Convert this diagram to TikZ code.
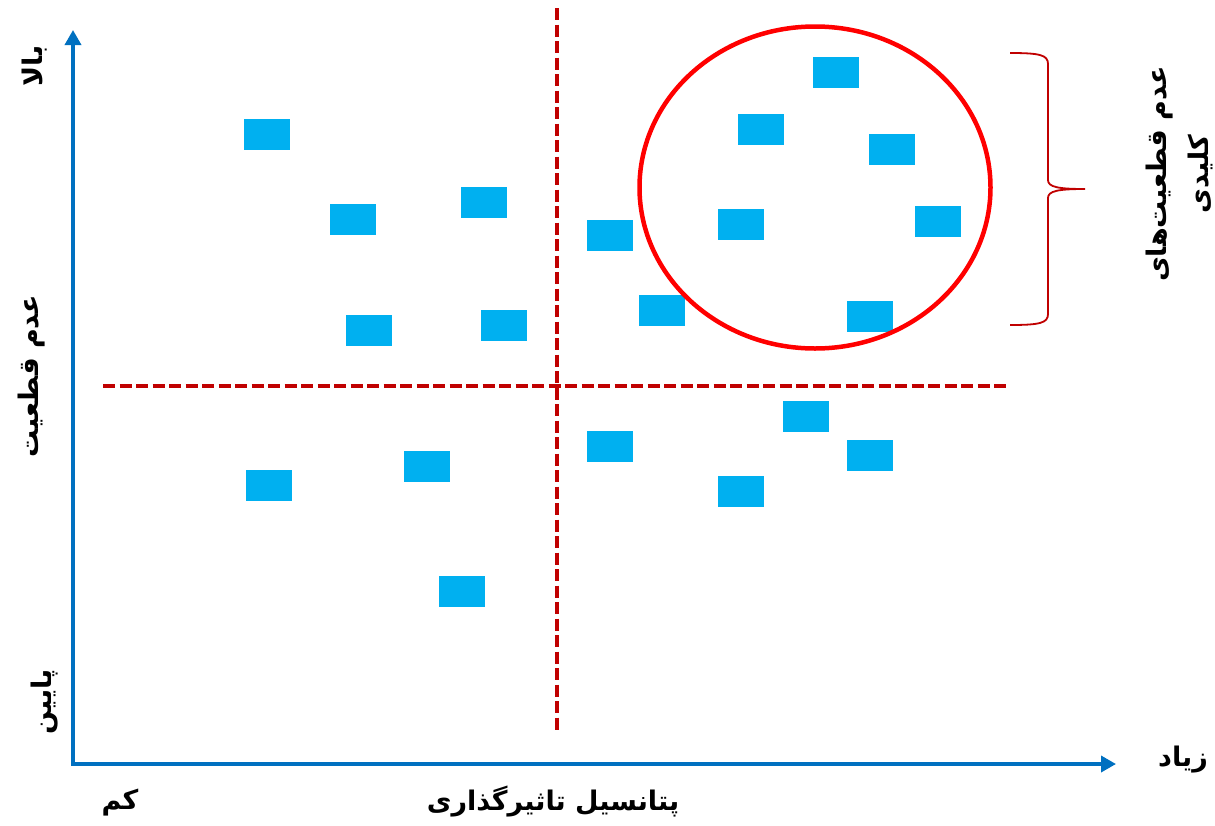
\documentclass[tikz,border=0pt]{standalone}
\usepackage{fontspec}
\newfontfamily\farsi[Script=Arabic]{DejaVu Sans}
\TeXXeTstate=1
\usetikzlibrary{arrows.meta}

\definecolor{axisblue}{HTML}{0070C0}
\definecolor{itemblue}{HTML}{00B0F0}
\definecolor{darkred}{HTML}{C00000}

\begin{document}
\begin{tikzpicture}[x=1pt,y=-1pt,>={Triangle[length=15pt,width=16pt]},
                    risk box/.style={rectangle,fill=itemblue,minimum width=46pt,minimum height=31pt,inner sep=0pt},
                    axis text/.style={font=\farsi\bfseries\fontsize{27}{42}\selectfont,inner sep=0pt},
                    divider/.style={darkred,line width=4.5pt,dash pattern=on 12pt off 4.5pt}]
  \useasboundingbox (0,0) rectangle (1215,825);

  % axes
  \coordinate (origin) at (73,764);
  \coordinate (ytip) at (73,30);
  \coordinate (xtip) at (1116,764);
  \draw[axisblue,line width=3.5pt,<->] (ytip) -- (origin) -- (xtip);

  % quadrant lines
  \coordinate (vtop) at (557,8);
  \coordinate (vbot) at (557,733);
  \coordinate (hleft) at (103,386);
  \coordinate (hright) at (1010,386);
  \draw[divider] (vtop) -- (vbot);
  \draw[divider] (hleft) -- (hright);

  % uncertainties
  \node[risk box] (r1) at (267,134.5) {};
  \node[risk box] (r2) at (353,219.5) {};
  \node[risk box] (r3) at (484,202.5) {};
  \node[risk box] (r4) at (610,235.5) {};
  \node[risk box] (r5) at (369,330.5) {};
  \node[risk box] (r6) at (504,325.5) {};
  \node[risk box] (r7) at (836,72.5) {};
  \node[risk box] (r8) at (761,129.5) {};
  \node[risk box] (r9) at (892,149.5) {};
  \node[risk box] (r10) at (741,224.5) {};
  \node[risk box] (r11) at (938,221.5) {};
  \node[risk box] (r12) at (662,310.5) {};
  \node[risk box] (r13) at (870,316.5) {};
  \node[risk box] (r14) at (806,416.5) {};
  \node[risk box] (r15) at (610,446.5) {};
  \node[risk box] (r16) at (870,455.5) {};
  \node[risk box] (r17) at (269,485.5) {};
  \node[risk box] (r18) at (427,466.5) {};
  \node[risk box] (r19) at (741,491.5) {};
  \node[risk box] (r20) at (462,591.5) {};

  % key group
  \draw[red,line width=4.5pt] (815,187.5) ellipse [x radius=175.5, y radius=161];
  \coordinate (btop) at (1010,53);
  \coordinate (bbot) at (1010,325);
  \coordinate (btip) at (1085,189);
  \draw[darkred,line width=1.8pt] (btop) .. controls (1040,53) and (1048,55) .. (1048,64)
    -- (1048,180) .. controls (1048,187) and (1058,189) .. (btip)
    .. controls (1058,189) and (1048,191) .. (1048,198)
    -- (1048,314) .. controls (1048,323) and (1040,325) .. (bbot);

  % labels
  \node[axis text,rotate=90] (high) at (35,66) {\beginR بالا\endR};
  \node[axis text,rotate=90] (uncert) at (32,376) {\beginR عدم قطعیت\endR};
  \node[axis text,rotate=90] (low) at (45,702) {\beginR پایین\endR};
  \node[axis text] (few) at (120,803) {\beginR کم\endR};
  \node[axis text] (impact) at (553,802) {\beginR پتانسیل تاثیرگذاری\endR};
  \node[axis text] (many) at (1183,760) {\beginR زیاد\endR};
  \node[axis text,rotate=90,align=center] (key) at (1179,174)
    {\beginR عدم قطعیت‌های\endR\\\beginR کلیدی\endR};
\end{tikzpicture}
\end{document}
